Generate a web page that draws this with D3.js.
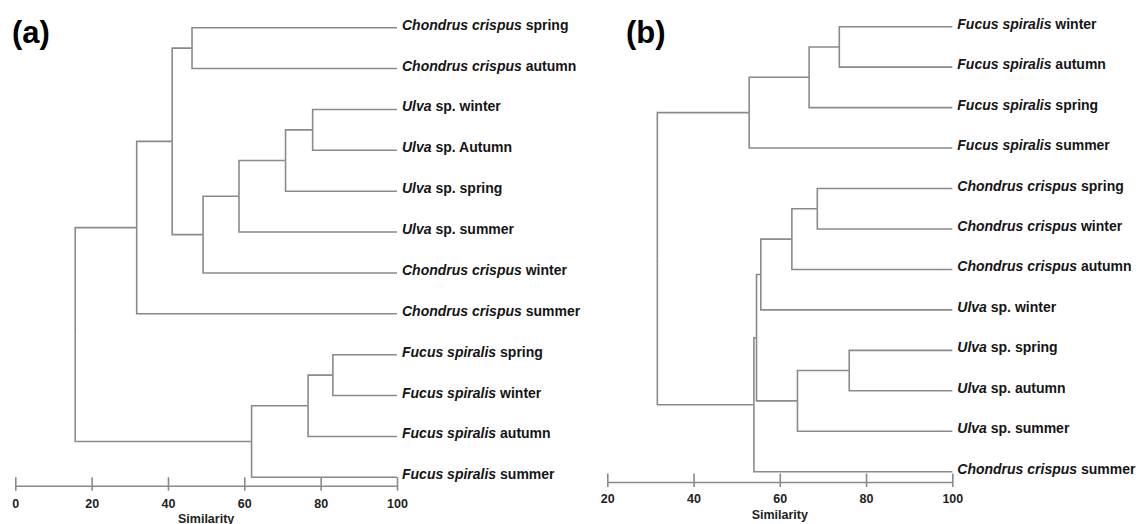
<!DOCTYPE html>
<html>
<head>
<meta charset="utf-8">
<script src="https://cdn.jsdelivr.net/npm/d3@7/dist/d3.min.js"></script>
<style>
  html, body { margin: 0; padding: 0; background: #fff; }
  svg { display: block; }
</style>
</head>
<body>
<svg id="chart" width="1142" height="524"></svg>
<script>
// ---------------- DATA ----------------
const italicParts = ["Chondrus crispus", "Fucus spiralis", "Ulva"];

// Panel (a)
const leavesA = [
  "Chondrus crispus spring",
  "Chondrus crispus autumn",
  "Ulva sp. winter",
  "Ulva sp. Autumn",
  "Ulva sp. spring",
  "Ulva sp. summer",
  "Chondrus crispus winter",
  "Chondrus crispus summer",
  "Fucus spiralis spring",
  "Fucus spiralis winter",
  "Fucus spiralis autumn",
  "Fucus spiralis summer"
];
// merges: [childA, childB, similarity]; ids >= leaves.length refer to earlier merges
const mergesA = [
  [2, 3, 77.9],
  [12, 4, 70.8],
  [13, 5, 58.6],
  [14, 6, 49.2],
  [0, 1, 46.3],
  [16, 15, 41.1],
  [17, 7, 31.8],
  [8, 9, 83.2],
  [19, 10, 76.7],
  [20, 11, 61.9],
  [18, 21, 15.7]
];
const ticksA = [0, 20, 40, 60, 80, 100];

// Panel (b)
const leavesB = [
  "Fucus spiralis winter",
  "Fucus spiralis autumn",
  "Fucus spiralis spring",
  "Fucus spiralis summer",
  "Chondrus crispus spring",
  "Chondrus crispus winter",
  "Chondrus crispus autumn",
  "Ulva sp. winter",
  "Ulva sp. spring",
  "Ulva sp. autumn",
  "Ulva sp. summer",
  "Chondrus crispus summer"
];
const mergesB = [
  [0, 1, 73.8],
  [12, 2, 66.8],
  [13, 3, 52.9],
  [4, 5, 68.7],
  [15, 6, 62.8],
  [16, 7, 55.6],
  [8, 9, 76.1],
  [18, 10, 64.1],
  [17, 19, 54.6],
  [20, 11, 54.0],
  [14, 21, 31.6]
];
const ticksB = [20, 40, 60, 80, 100];

const axisTitle = "Similarity";
const leafSimilarity = 100;

// ---------------- LAYOUT ----------------
const panels = [
  { tag: "(a)", tagX: 12, tagY: 43, leaves: leavesA, merges: mergesA, ticks: ticksA,
    domain: [0, 100], x0: 15.3, x1: 397, yFirst: 27.7, yLast: 477.3, axisY: 485.7,
    tickLabelDy: 22.5, titleDy: 37 },
  { tag: "(b)", tagX: 626, tagY: 43, leaves: leavesB, merges: mergesB, ticks: ticksB,
    domain: [20, 100], x0: 607.3, x1: 952.3, yFirst: 26.7, yLast: 471.7, axisY: 482,
    tickLabelDy: 20.5, titleDy: 37 }
];

const LINE = "#8a8a8a";
const TEXT = "#151515";
const FONT = "'Liberation Sans', Arial, Helvetica, sans-serif";
const svg = d3.select("#chart");

function buildTree(leaves, merges) {
  const nodes = leaves.map((name, i) => ({ id: i, name, sim: leafSimilarity, index: i }));
  merges.forEach((m, k) => {
    nodes.push({ id: leaves.length + k, sim: m[2], children: [nodes[m[0]], nodes[m[1]]] });
  });
  return d3.hierarchy(nodes[nodes.length - 1]);
}

panels.forEach(p => {
  const g = svg.append("g");
  const x = d3.scaleLinear().domain(p.domain).range([p.x0, p.x1]);
  const y = d3.scaleLinear().domain([0, p.leaves.length - 1]).range([p.yFirst, p.yLast]);

  const root = buildTree(p.leaves, p.merges);
  root.eachAfter(n => {
    n.px = x(n.data.sim);
    n.py = n.children ? d3.mean([n.children[0].py, n.children[n.children.length - 1].py]) : y(n.data.index);
  });

  // elbow links
  g.append("g")
    .selectAll("path")
    .data(root.links())
    .join("path")
    .attr("d", l => `M${l.source.px},${l.source.py}V${l.target.py}H${l.target.px}`)
    .attr("fill", "none")
    .attr("stroke", LINE)
    .attr("stroke-width", 1.6);

  // leaf labels
  const lab = g.append("g")
    .selectAll("text")
    .data(root.leaves())
    .join("text")
    .attr("x", d => d.px + 5)
    .attr("y", d => d.py + 2)
    .attr("font-family", FONT)
    .attr("font-weight", "bold")
    .attr("font-size", 14)
    .attr("fill", TEXT);
  lab.each(function(d) {
    const name = d.data.name;
    const it = italicParts.find(s => name.startsWith(s)) || "";
    const t = d3.select(this);
    t.append("tspan").attr("font-style", "italic").text(it);
    t.append("tspan").text(name.slice(it.length));
  });

  // axis
  const axis = d3.axisBottom(x).tickValues(p.ticks).tickSizeOuter(0).tickSize(0).tickPadding(0);
  const ag = g.append("g").attr("transform", `translate(0,${p.axisY})`).call(axis);
  ag.select(".domain").attr("stroke", LINE).attr("stroke-width", 1.6);
  ag.selectAll(".tick line").attr("y1", -8.5).attr("y2", 5).attr("stroke", LINE).attr("stroke-width", 1.6);
  ag.selectAll(".tick text")
    .attr("y", p.tickLabelDy).attr("dy", null)
    .attr("font-family", FONT)
    .attr("font-weight", "bold")
    .attr("font-size", 12.5)
    .attr("fill", "#222");

  g.append("text")
    .attr("x", (p.x0 + p.x1) / 2)
    .attr("y", p.axisY + p.titleDy)
    .attr("text-anchor", "middle")
    .attr("font-family", FONT)
    .attr("font-weight", "bold")
    .attr("font-size", 12.5)
    .attr("fill", "#222")
    .text(axisTitle);

  // panel tag
  svg.append("text")
    .attr("x", p.tagX)
    .attr("y", p.tagY)
    .attr("font-family", FONT)
    .attr("font-weight", "bold")
    .attr("font-size", 31)
    .attr("fill", "#000")
    .text(p.tag);
});
</script>
</body>
</html>
